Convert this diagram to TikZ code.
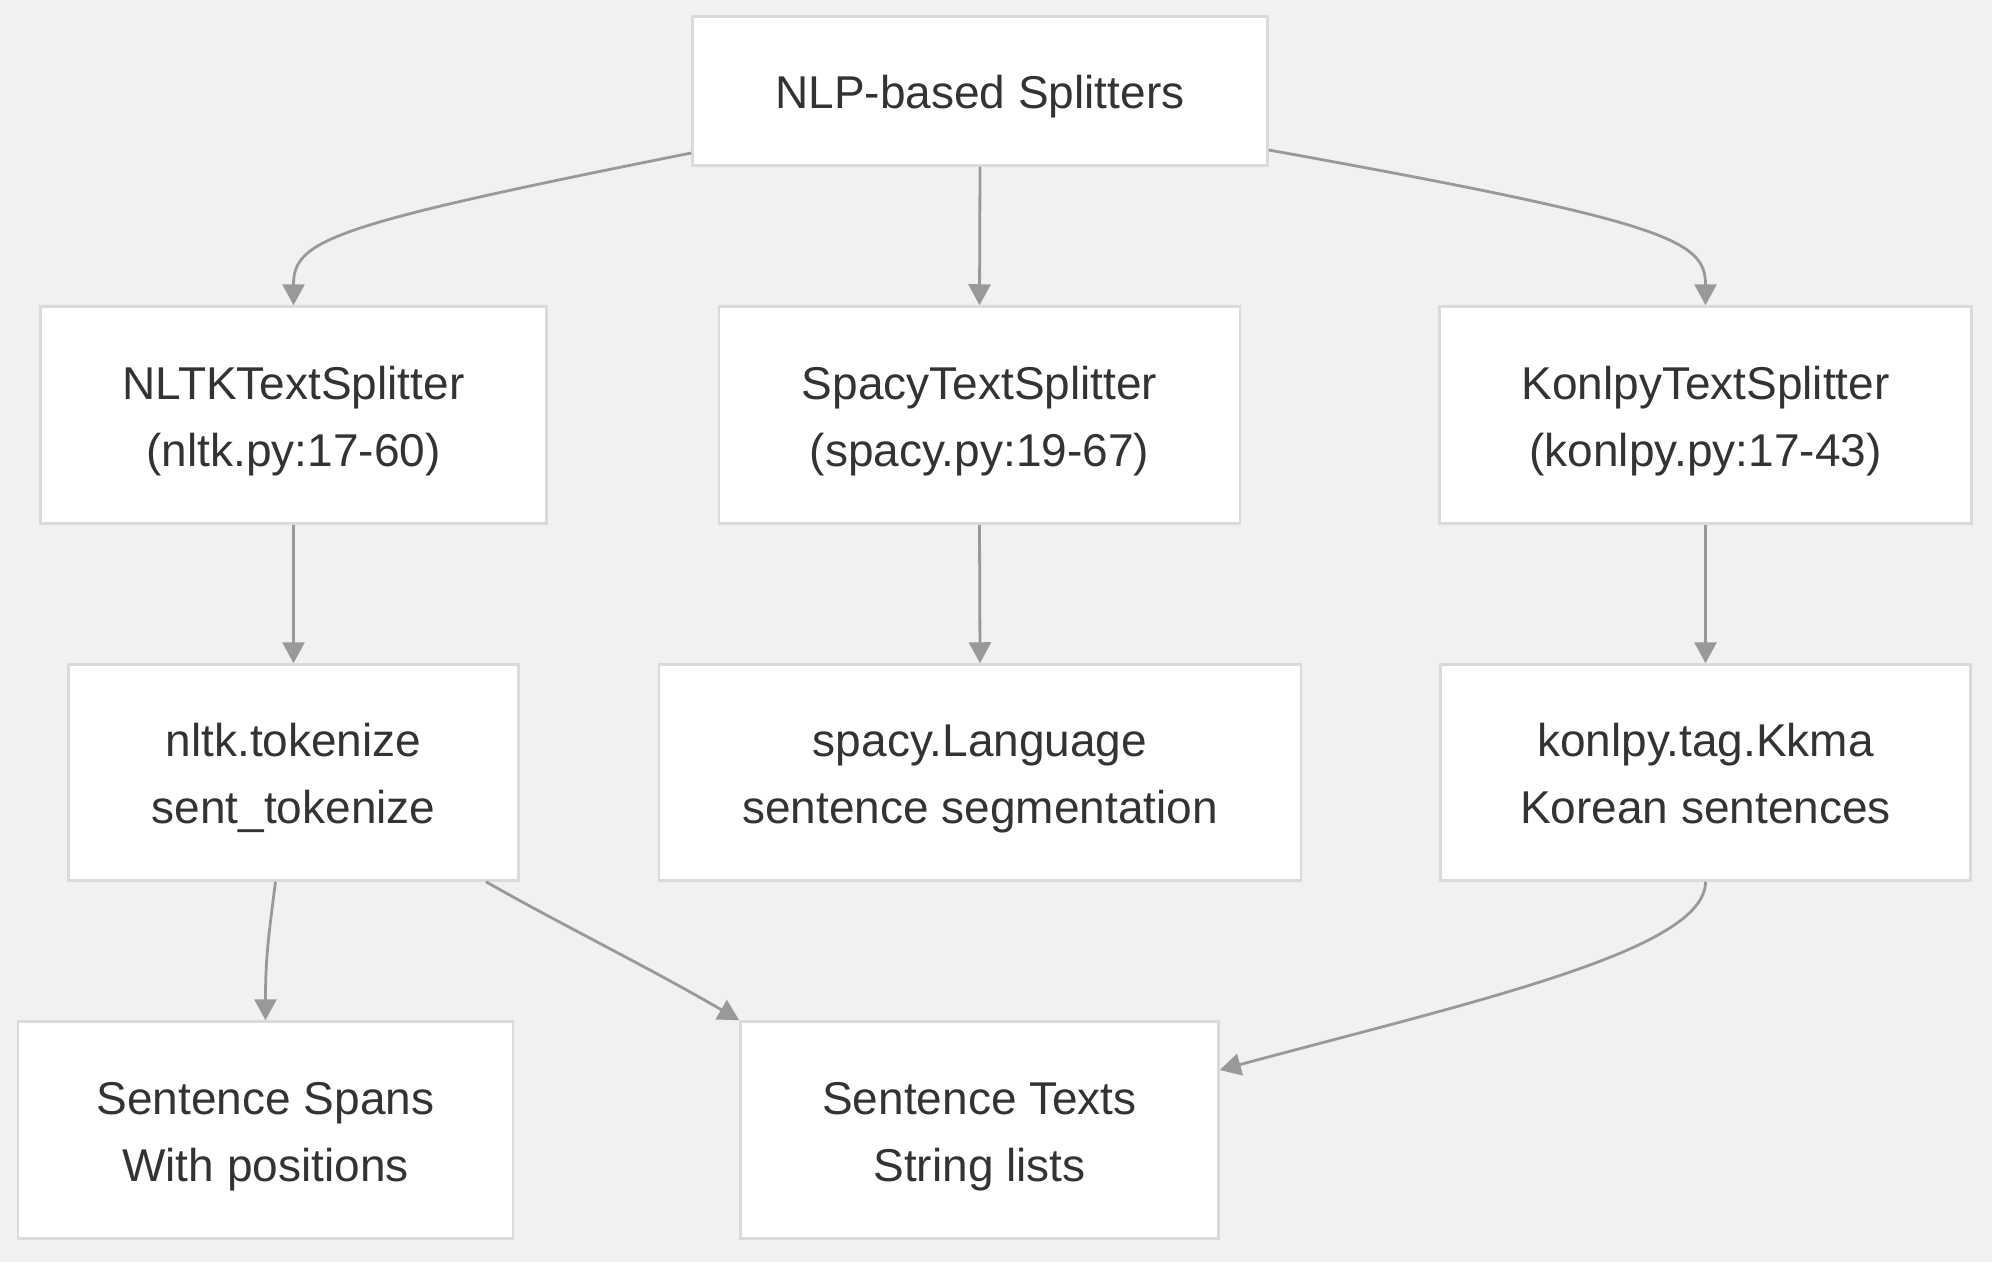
\documentclass[tikz,border=0pt]{standalone}
\usepackage{fontspec}
\setmainfont{Liberation Sans}
\usetikzlibrary{arrows.meta}
\definecolor{bgc}{RGB}{242,241,239}
\definecolor{boxline}{RGB}{218,218,218}
\definecolor{edgec}{RGB}{153,153,153}
\definecolor{txtc}{RGB}{51,51,51}
\newcommand\mystrut{\rule[-11pt]{0pt}{57pt}}
\begin{document}
\begin{tikzpicture}[x=1pt,y=-1pt,
  box/.style={draw=boxline,line width=2.5pt,fill=white,rectangle,inner sep=0pt,
    align=center,text=txtc,font=\fontsize{46}{67}\selectfont},
  conn/.style={draw=edgec,line width=2.8pt,-{Triangle[length=21pt,width=22pt]}}]
\fill[bgc] (0,0) rectangle (1992,1262);
\useasboundingbox (0,0) rectangle (1992,1262);
% row 1
\node[box,minimum width=575pt,minimum height=149pt] (top) at (980,91) {\mystrut NLP-based Splitters};
% row 2
\node[box,minimum width=506pt,minimum height=217pt] (nltk) at (293.5,415) {\mystrut NLTKTextSplitter\\\mystrut(nltk.py:17-60)};
\node[box,minimum width=521pt,minimum height=217pt] (spacy) at (979.5,415) {\mystrut SpacyTextSplitter\\\mystrut(spacy.py:19-67)};
\node[box,minimum width=532pt,minimum height=217pt] (konlpy) at (1705.5,415) {\mystrut KonlpyTextSplitter\\\mystrut(konlpy.py:17-43)};
% row 3
\node[box,minimum width=450pt,minimum height=216pt] (tok) at (293.5,772.5) {\mystrut nltk.tokenize\\\mystrut sent\_tokenize};
\node[box,minimum width=642pt,minimum height=216pt] (lang) at (980,772.5) {\mystrut spacy.Language\\\mystrut sentence segmentation};
\node[box,minimum width=530pt,minimum height=216pt] (kkma) at (1705.5,772.5) {\mystrut konlpy.tag.Kkma\\\mystrut Korean sentences};
% row 4
\node[box,minimum width=495pt,minimum height=217pt] (spans) at (265.5,1130) {\mystrut Sentence Spans\\\mystrut With positions};
\node[box,minimum width=478pt,minimum height=217pt] (texts) at (979.5,1130) {\mystrut Sentence Texts\\\mystrut String lists};
% connectors
\draw[conn] ([yshift=-62pt]top.west) .. controls (330,225) and (293.5,240) .. (nltk.north);
\draw[conn] (top.south) -- (spacy.north);
\draw[conn] ([yshift=-59pt]top.east) .. controls (1668,222) and (1705.5,240) .. (konlpy.north);
\draw[conn] (nltk.south) -- (tok.north);
\draw[conn] (spacy.south) -- (lang.north);
\draw[conn] (konlpy.south) -- (kkma.north);
\draw[conn] ([xshift=-18pt]tok.south) .. controls (268,940) and (265.5,960) .. (spans.north);
\draw[conn] ([xshift=192.5pt]tok.south) .. controls (560,924) and (650,968) .. (texts.north west);
\draw[conn] (kkma.south) .. controls (1705.5,950) and (1480,1000) .. ([yshift=60pt]texts.east);
\end{tikzpicture}
\end{document}
